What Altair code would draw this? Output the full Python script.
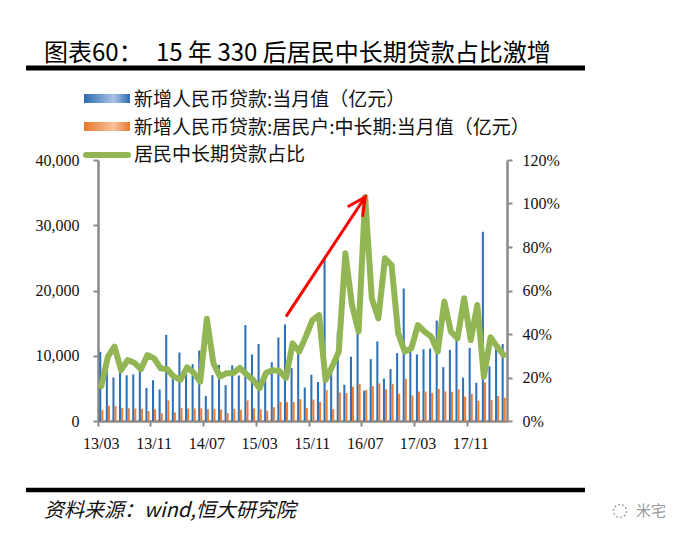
import altair as alt
import pandas as pd

# ---------------- data ----------------
months = ["13/03", "13/04", "13/05", "13/06", "13/07", "13/08", "13/09", "13/10", "13/11", "13/12",
          "14/01", "14/02", "14/03", "14/04", "14/05", "14/06", "14/07", "14/08", "14/09", "14/10", "14/11", "14/12",
          "15/01", "15/02", "15/03", "15/04", "15/05", "15/06", "15/07", "15/08", "15/09", "15/10", "15/11", "15/12",
          "16/01", "16/02", "16/03", "16/04", "16/05", "16/06", "16/07", "16/08", "16/09", "16/10", "16/11", "16/12",
          "17/01", "17/02", "17/03", "17/04", "17/05", "17/06", "17/07", "17/08", "17/09", "17/10", "17/11", "17/12",
          "18/01", "18/02", "18/03", "18/04"]

# 新增人民币贷款:当月值（亿元）
new_loans = [10600, 7929, 6674, 8605, 6999, 7139, 7870, 5061, 6246, 4825,
             13200, 6445, 10500, 7747, 8708, 10800, 3852, 7025, 8572, 5483, 8527, 6973,
             14700, 10200, 11800, 7079, 9008, 12800, 14800, 8096, 10500, 5136, 7089, 5978,
             25100, 7266, 13700, 5556, 9855, 13800, 4636, 9487, 12200, 6513, 7946, 10400,
             20300, 11700, 10200, 11000, 11100, 15400, 8255, 10900, 12700, 6632, 11200, 5844,
             29000, 8393, 11200, 11800]

# 新增人民币贷款:居民户:中长期:当月值（亿元）
household_mlt = [1700, 2350, 2280, 2010, 1960, 1910, 1870, 1530, 1800, 1170,
                 3140, 1310, 1980, 1910, 1930, 1950, 1810, 1860, 1750, 1210, 1880, 1700,
                 3160, 1930, 1780, 1570, 2110, 2940, 2890, 2890, 3350, 1990, 3290, 2910,
                 4740, 1820, 4370, 4280, 5250, 5670, 4775, 5350, 5760, 4870, 5700, 4190,
                 6480, 3910, 4500, 4520, 4310, 4910, 4530, 4480, 4830, 3740, 4170, 3110,
                 5920, 3230, 3830, 3580]

# 居民中长期贷款占比 (%)
share_pct = [16.0, 29.6, 34.2, 23.4, 28.0, 26.8, 23.8, 30.3, 28.8, 24.2,
             23.8, 20.4, 18.9, 24.7, 22.2, 18.1, 47.0, 26.5, 20.4, 22.0, 22.0, 24.4,
             21.5, 18.9, 15.1, 22.2, 23.4, 23.0, 19.8, 35.7, 31.9, 38.8, 46.4, 48.7,
             18.9, 25.0, 31.9, 77.1, 53.3, 41.1, 103.0, 56.4, 47.2, 74.8, 71.7, 40.3,
             31.9, 33.4, 44.1, 41.1, 38.8, 31.9, 54.9, 41.1, 38.0, 56.4, 37.2, 53.3,
             20.4, 38.5, 34.2, 30.3]

tick_months = ["13/03", "13/11", "14/07", "15/03", "15/11", "16/07", "17/03", "17/11"]
left_ticks = [0, 10000, 20000, 30000, 40000]
right_ticks = [0, 20, 40, 60, 80, 100, 120]

arrow_months = ["15/07", "16/07"]
arrow_pct = [48, 103]

S1 = "新增人民币贷款:当月值（亿元）"
S2 = "新增人民币贷款:居民户:中长期:当月值（亿元）"
S3 = "居民中长期贷款占比"
TITLE_A = "图表60："
TITLE_B = "15 年 330 后居民中长期贷款占比激增"
SOURCE = "资料来源：wind,恒大研究院"
MARK = "米宅"

# ---------------- style ----------------
BLUE = "#2F71B8"
ORANGE = "#EC7E36"
GREEN = "#93B655"
RED = "#FF0000"
AXIS = "#8A8A8A"
CJK = "Noto Sans CJK SC"
SERIF = "Liberation Serif"

W, H = 409, 261

df_bars = pd.DataFrame({
    "month": months * 2,
    "series": [S1] * len(months) + [S2] * len(months),
    "value": new_loans + household_mlt,
})
df_line = pd.DataFrame({"month": months, "ratio": share_pct})
df_arrow = pd.DataFrame({"month": arrow_months, "ratio": arrow_pct})

x_enc = alt.X(
    "month:N", sort=months,
    scale=alt.Scale(type="band", domain=months, paddingInner=0, paddingOuter=0),
    axis=alt.Axis(values=tick_months, bandPosition=0, title=None, labelAngle=0,
                  tickSize=5, tickWidth=2, tickColor=AXIS, domainColor=AXIS, domainWidth=2.5,
                  labelPadding=9, labelFont=SERIF, labelFontSize=16, labelColor="#111111"),
)

y_left = alt.Y(
    "value:Q",
    scale=alt.Scale(domain=[0, 40000], nice=False, zero=True),
    axis=alt.Axis(values=left_ticks, labelExpr="format(datum.value, ',.0f')", title=None, grid=False,
                  tickSize=5, tickWidth=2, tickColor=AXIS, domainColor=AXIS, domainWidth=2.5,
                  labelPadding=14, labelFont=SERIF, labelFontSize=16, labelColor="#111111"),
)

y_right = alt.Y(
    "ratio:Q",
    scale=alt.Scale(domain=[0, 120], nice=False, zero=True),
    axis=alt.Axis(orient="right", values=right_ticks, labelExpr="datum.value + '%'",
                  title=None, grid=False,
                  tickSize=5, tickWidth=2, tickColor=AXIS, domainColor=AXIS, domainWidth=2.5,
                  labelPadding=10, labelFont=SERIF, labelFontSize=16, labelColor="#111111"),
)

bars = alt.Chart(df_bars).mark_bar().encode(
    x=x_enc,
    xOffset=alt.XOffset("series:N", sort=[S1, S2],
                        scale=alt.Scale(domain=[S1, S2], paddingInner=0, paddingOuter=0.6)),
    y=y_left,
    color=alt.Color("series:N", scale=alt.Scale(domain=[S1, S2], range=[BLUE, ORANGE]), legend=None),
)

line = alt.Chart(df_line).mark_line(
    color=GREEN, strokeWidth=6, strokeJoin="round", strokeCap="round"
).encode(x=x_enc, y=y_right)

shaft = alt.Chart(df_arrow).mark_line(color=RED, strokeWidth=3).encode(x=x_enc, y=y_right)

head = alt.Chart(df_arrow.iloc[[1]]).mark_point(
    shape="M -0.5 1 L 0 0 L 0.5 1", angle=34, size=1280, filled=False,
    stroke=RED, strokeWidth=3, opacity=1, strokeJoin="miter"
).encode(x=x_enc, y=y_right)

one = alt.Data(values=[{"k": 1}])


def text(s, x, y, size, **kw):
    return alt.Chart(alt.Data(values=[{"t": s}])).mark_text(
        align="left", baseline="middle", fontSize=size, font=CJK, **kw
    ).encode(x=alt.value(x), y=alt.value(y), text="t:N")


def hline(x1, x2, y, width, color, **kw):
    return alt.Chart(one).mark_rule(strokeWidth=width, color=color, **kw).encode(
        x=alt.value(x1), x2=alt.value(x2), y=alt.value(y))


def swatch(x1, x2, y1, y2, c_dark, c_light):
    grad = alt.LinearGradient(
        gradient="linear", x1=0, x2=1, y1=0, y2=0,
        stops=[alt.GradientStop(color=c_dark, offset=0),
               alt.GradientStop(color=c_light, offset=0.65),
               alt.GradientStop(color=c_dark, offset=1)])
    return alt.Chart(one).mark_rect(color=grad).encode(
        x=alt.value(x1), x2=alt.value(x2), y=alt.value(y1), y2=alt.value(y2))


# plot origin is at page (98, 160)
annotations = [
    text(TITLE_A, -54, -106, 24, fontWeight="normal", color="#000000"),
    text(TITLE_B, 58, -106, 24, fontWeight="normal", color="#000000"),
    hline(-72, 487, -92, 5, "#000000"),
    swatch(-14, 32, -66, -57, "#2E6BB2", "#A9C3E6"),
    swatch(-14, 32, -38, -29, "#E8772E", "#F7C29C"),
    hline(-12, 30, -5, 6, GREEN, strokeCap="round"),
    text(S1, 36, -60, 19, color="#111111"),
    text(S2, 36, -32, 19, color="#111111"),
    text(S3, 36, -5, 19, color="#111111"),
    hline(-72, 487, 330, 4.5, "#000000"),
    text(SOURCE, -54, 351, 20, fontStyle="italic", color="#111111"),
    text(MARK, 538, 351, 15, color="#9A9A9A"),
    alt.Chart(one).mark_point(shape="circle", size=170, filled=False, stroke="#A8A8A8",
                              strokeWidth=1.5, strokeDash=[2, 2], opacity=1).encode(
        x=alt.value(522), y=alt.value(351)),
]

chart = alt.layer(
    bars,
    alt.layer(line, shaft, head),
    *annotations,
).resolve_scale(y="independent").properties(
    width=W, height=H,
    autosize=alt.AutoSizeParams(type="none"),
    padding={"left": 90, "top": 152, "right": 171, "bottom": 110},
    background="white",
).configure_view(stroke=None)

chart.save("out.html", embed_options={"renderer": "svg", "actions": False})
